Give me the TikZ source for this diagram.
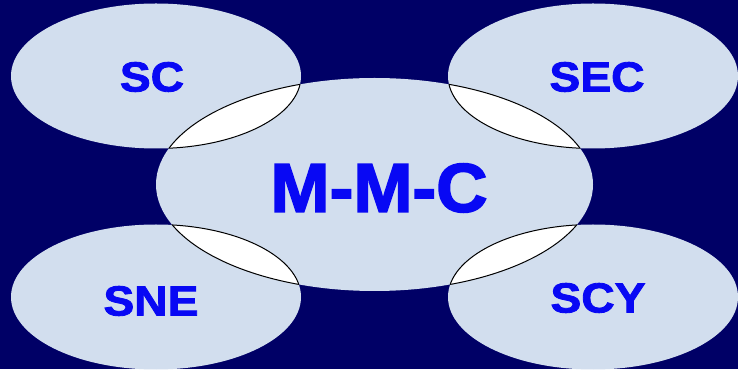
\documentclass[tikz,border=0pt]{standalone}
\usepackage{fontspec}
\usepackage{tikz}
\usetikzlibrary{positioning}
\usepackage{xcolor}

\newfontfamily\smlfont{Liberation Sans}[FakeStretch=1.1, BoldFeatures={FakeBold=2}]
\newfontfamily\bigfont{Liberation Sans}[FakeStretch=1.03, BoldFeatures={FakeBold=2.4}]

\definecolor{navy}{HTML}{000066}
\definecolor{podfill}{HTML}{D2DEEE}
\definecolor{lblblue}{HTML}{0808F4}

\begin{document}
\begin{tikzpicture}[x=1pt, y=1pt,
  sat/.style={x radius=145, y radius=72.5},
  hub/.style={x radius=218.5, y radius=106.5},
  lbl/.style={font=\smlfont\bfseries\fontsize{42}{42}\selectfont, text=lblblue, inner sep=0pt},
  biglbl/.style={font=\bigfont\bfseries\fontsize{69}{69}\selectfont, text=lblblue, inner sep=0pt},
  rim/.style={draw=black, line width=1pt},
]
  \fill[navy] (0,0) rectangle (738,369);
  \useasboundingbox (0,0) rectangle (738,369);

  % centres
  \coordinate (mmc) at (374.5,184.5);
  \coordinate (sc)  at (156,293);
  \coordinate (sec) at (593,293);
  \coordinate (sne) at (156,72);
  \coordinate (scy) at (593,72);

  % ellipses
  \fill[podfill] (mmc) ellipse[hub];
  \foreach \p in {sc,sec,sne,scy}
    \fill[podfill] (\p) ellipse[sat];

  % overlaps with the hub
  \foreach \p in {sc,sec,sne,scy} {
    \begin{scope}
      \clip (\p) ellipse[sat];
      \fill[white] (mmc) ellipse[hub];
      \draw[rim] (mmc) ellipse[hub];
    \end{scope}
    \begin{scope}
      \clip (mmc) ellipse[hub];
      \draw[rim] (\p) ellipse[sat];
    \end{scope}
  }

  % labels
  \node[biglbl] (tmmc) at (379,181) {M-M-C};
  \node[lbl] (tsc)  at (152,292) {SC};
  \node[lbl] (tsec) at (597,292) {SEC};
  \node[lbl] (tsne) at (151,68)  {SNE};
  \node[lbl] (tscy) at (598,71)  {SCY};
\end{tikzpicture}
\end{document}
